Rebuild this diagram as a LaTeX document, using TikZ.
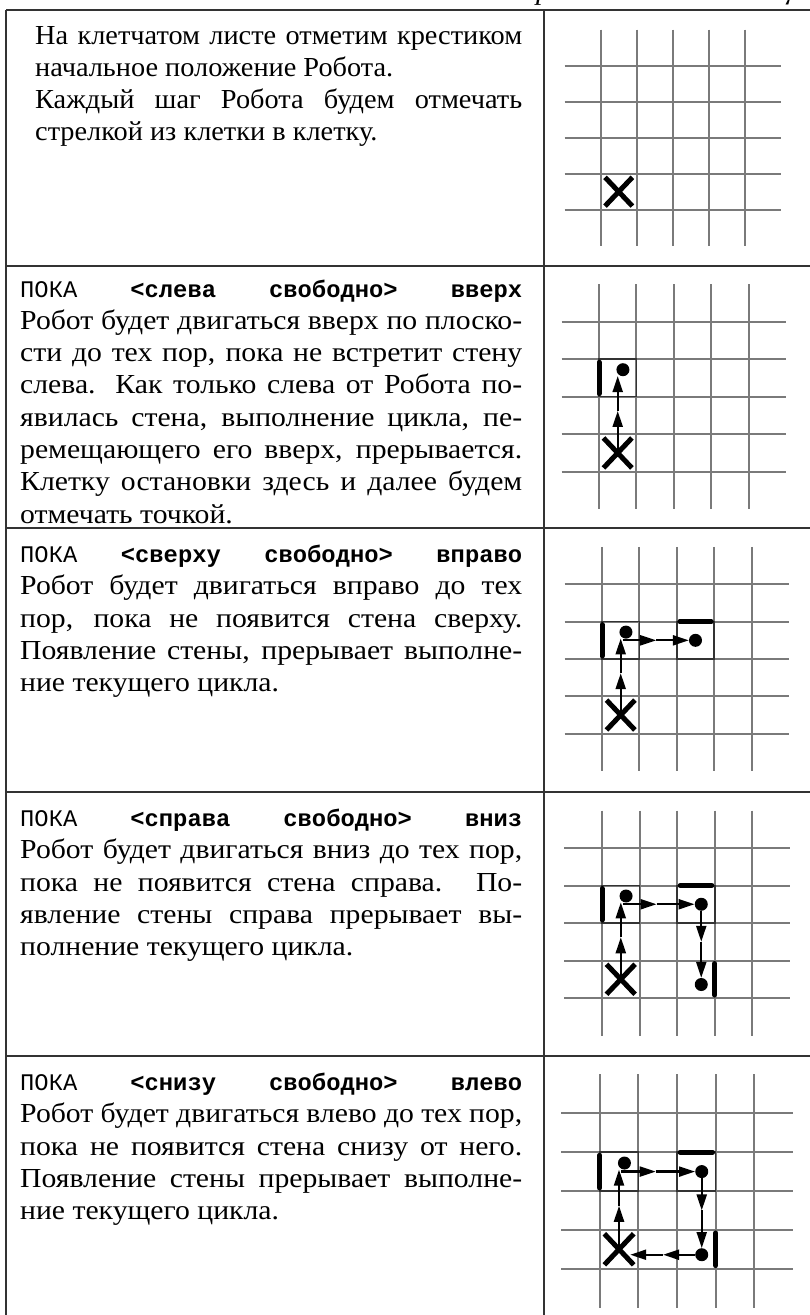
\documentclass[tikz,border=0pt]{standalone}
\usepackage{fontspec}
\setmainfont{Liberation Serif}[FakeStretch=1.08]
\newfontfamily\firstrowfont{Liberation Serif}[FakeStretch=1.03]
\setmonofont{Liberation Mono}
\usetikzlibrary{arrows.meta}
\tikzset{
 tbl/.style={draw=black!80, line width=1.6pt},
 gridline/.style={draw=black!52, line width=2pt},
 wall/.style={draw=black, line width=5pt, line cap=round},
 crossline/.style={draw=black, line width=5pt},
 dot/.style={circle, fill=black, inner sep=0pt, minimum size=13pt},
 stopbox/.style={draw=black!80, line width=1.5pt},
 move/.style={draw=black, line width=2.2pt, -{Triangle[length=16pt,width=10pt]}},
 txt/.style={anchor=base west, inner sep=0pt, align=justify, font=\fontsize{27.5}{32.3}\selectfont},
 hdr/.style={anchor=base east, inner sep=0pt, font=\itshape\fontsize{27.5}{32.3}\selectfont},
}
\newcommand\robogrid{%
  \foreach \i in {0,...,4} {\draw[gridline] (\i,-1) -- (\i,5); \draw[gridline] (-1,\i) -- (5,\i);}}
\newcommand\robocross[1]{%
  \coordinate (#1) at (0.5,3.5);
  \draw[crossline] (0.12,3.1) -- (0.88,3.9) (0.12,3.9) -- (0.88,3.1);}
% justified line
\newcommand\jl[1]{\makebox[\hsize][s]{#1}\\}
% command line: ПОКА <condition> direction, spread over the line
\newcommand\cmdline[3]{\hbox to \hsize{\fontsize{23.8}{32.3}\selectfont\ttfamily ПОКА\hfill\textbf{<#1}\hfill\textbf{#2>}\hfill\textbf{#3}}\\}
\begin{document}
\begin{tikzpicture}[x=1pt,y=-1pt]
\useasboundingbox (0,0) rectangle (810,1315);
% header (cut off at the top)
\node[hdr] (head) at (812,-1) {Продолжение таблицы};
% table
\draw[tbl] (6,10) -- (815,10);
\draw[tbl] (6,10) -- (6,1320);
\draw[tbl] (544,10) -- (544,1320);
\foreach \yy in {266,528,792,1056} {\draw[tbl] (6,\yy) -- (815,\yy);}
% ---- texts
\node[txt, text width=487pt] (t1) at (35,44) {\firstrowfont\jl{На клетчатом листе отметим крестиком}
начальное положение Робота.\\
\jl{Каждый шаг Робота будем отмечать}
стрелкой из клетки в клетку.};
\node[txt, text width=502pt] (t2) at (20,297) {\cmdline{слева}{свободно}{вверх}
\jl{Робот будет двигаться вверх по плоско-}
\jl{сти до тех пор, пока не встретит стену}
\jl{слева. Как только слева от Робота по-}
\jl{явилась стена, выполнение цикла, пе-}
\jl{ремещающего его вверх, прерывается.}
\jl{Клетку остановки здесь и далее будем}
отмечать точкой.};
\node[txt, text width=502pt] (t3) at (20,562.5) {\cmdline{сверху}{свободно}{вправо}
\jl{Робот будет двигаться вправо до тех}
\jl{пор, пока не появится стена сверху.}
\jl{Появление стены, прерывает выполне-}
ние текущего цикла.};
\node[txt, text width=502pt] (t4) at (20,826.5) {\cmdline{справа}{свободно}{вниз}
\jl{Робот будет двигаться вниз до тех пор,}
\jl{пока не появится стена справа. По-}
\jl{явление стены справа прерывает вы-}
полнение текущего цикла.};
\node[txt, text width=502pt] (t5) at (20,1090.5) {\cmdline{снизу}{свободно}{влево}
\jl{Робот будет двигаться влево до тех пор,}
\jl{пока не появится стена снизу от него.}
\jl{Появление стены прерывает выполне-}
ние текущего цикла.};
% ---- row 1 grid
\begin{scope}[shift={(600.7,65.7)}, x=36pt, y=-36pt]
  \robogrid
  \robocross{xa}
\end{scope}
% ---- row 2
\begin{scope}[shift={(599,321.7)}, x=37.4pt, y=-37.5pt]
  \robogrid
  \draw[stopbox] (0,1) rectangle (1,2);
  \draw[wall] (0,1.08) -- (0,1.92);
  \robocross{xb}
  \node[dot] (b1) at (0.64,1.28) {};
  \coordinate (bu1) at (0.5,2.38);
  \coordinate (bu2) at (0.5,1.45);
  \draw[move] (xb) -- (bu1);
  \draw[move] (bu1) -- (bu2);
\end{scope}
% ---- row 3
\begin{scope}[shift={(602,584.3)}, x=37.4pt, y=-37.35pt]
  \robogrid
  \draw[stopbox] (0,1) rectangle (1,2);
  \draw[stopbox] (2,1) rectangle (3,2);
  \draw[wall] (0,1.08) -- (0,1.92);
  \draw[wall] (2.08,1) -- (2.92,1);
  \robocross{xc}
  \node[dot] (c1) at (0.64,1.28) {};
  \node[dot] (c2) at (2.5,1.5) {};
  \coordinate (cu1) at (0.5,2.38);
  \coordinate (cu2) at (0.5,1.45);
  \coordinate (cr0) at (0.56,1.5);
  \coordinate (cr1) at (1.45,1.5);
  \draw[move] (xc) -- (cu1);
  \draw[move] (cu1) -- (cu2);
  \draw[move] (cr0) -- (cr1);
  \draw[move] (cr1) -- (c2);
\end{scope}
% ---- row 4
\begin{scope}[shift={(602,848)}, x=37.6pt, y=-37.5pt]
  \robogrid
  \draw[stopbox] (0,1) rectangle (1,2);
  \draw[stopbox] (2,1) rectangle (3,2);
  \draw[wall] (0,1.08) -- (0,1.92);
  \draw[wall] (2.08,1) -- (2.92,1);
  \draw[wall] (3,3.08) -- (3,3.92);
  \robocross{xd}
  \node[dot] (d1) at (0.64,1.28) {};
  \node[dot] (d2) at (2.64,1.5) {};
  \node[dot] (d3) at (2.64,3.64) {};
  \coordinate (du1) at (0.5,2.38);
  \coordinate (du2) at (0.5,1.45);
  \coordinate (dr0) at (0.56,1.5);
  \coordinate (dr1) at (1.45,1.5);
  \coordinate (dv1) at (2.64,2.5);
  \draw[move] (xd) -- (du1);
  \draw[move] (du1) -- (du2);
  \draw[move] (dr0) -- (dr1);
  \draw[move] (dr1) -- (d2);
  \draw[move] (d2) -- (dv1);
  \draw[move] (dv1) -- (d3);
\end{scope}
% ---- row 5
\begin{scope}[shift={(599.7,1113.3)}, x=38.65pt, y=-38.85pt]
  \robogrid
  \draw[stopbox] (0,1) rectangle (1,2);
  \draw[stopbox] (2,1) rectangle (3,2);
  \draw[wall] (0,1.08) -- (0,1.92);
  \draw[wall] (2.08,1) -- (2.92,1);
  \draw[wall] (3,3.08) -- (3,3.92);
  \robocross{xe}
  \node[dot] (e1) at (0.64,1.28) {};
  \node[dot] (e2) at (2.64,1.5) {};
  \node[dot] (e3) at (2.64,3.64) {};
  \coordinate (eu1) at (0.5,2.38);
  \coordinate (eu2) at (0.5,1.45);
  \coordinate (er0) at (0.56,1.5);
  \coordinate (er1) at (1.45,1.5);
  \coordinate (ev1) at (2.64,2.5);
  \coordinate (el1) at (1.64,3.64);
  \coordinate (el2) at (0.79,3.64);
  \draw[move] (xe) -- (eu1);
  \draw[move] (eu1) -- (eu2);
  \draw[move] (er0) -- (er1);
  \draw[move] (er1) -- (e2);
  \draw[move] (e2) -- (ev1);
  \draw[move] (ev1) -- (e3);
  \draw[move] (e3) -- (el1);
  \draw[move] (el1) -- (el2);
\end{scope}
\end{tikzpicture}
\end{document}
